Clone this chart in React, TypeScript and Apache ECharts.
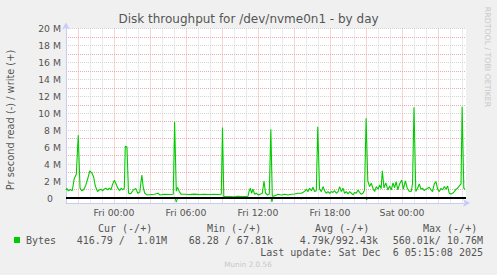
import React, { useEffect, useRef } from 'react';
import * as echarts from 'echarts';

// Hours relative to Fri 00:00, values in MB/s (M)
const writeHours = [
  -4.0, -3.93, -3.81, -3.64, -3.48, -3.31, -3.14, -2.98, -2.83, -2.68, -2.52, -2.35, -2.2, -2.02, -1.85, -1.7,
  -1.56, -1.37, -1.23, -1.08, -0.95, -0.81, -0.67, -0.52, -0.39, -0.25, -0.12, 0.03, 0.17, 0.32, 0.47, 0.61,
  0.73, 0.86, 0.94, 1.08, 1.21, 1.4, 1.61, 1.82, 1.98, 2.15, 2.32, 2.44, 2.57, 2.73, 3.11, 3.36,
  3.67, 3.82, 4.19, 4.61, 4.94, 5.05, 5.19, 5.3, 5.44, 5.58, 5.86, 6.28, 6.69, 7.11, 7.53, 7.94,
  8.36, 8.69, 8.94, 9.04, 9.15, 9.61, 10.03, 10.28, 10.61, 10.94, 11.17, 11.25, 11.36, 11.47, 11.58, 11.72,
  11.86, 12.03, 12.22, 12.36, 12.5, 12.63, 12.78, 12.94, 13.07, 13.19, 13.38, 13.67, 13.94, 14.22, 14.5, 14.78,
  15.05, 15.33, 15.61, 15.88, 16.03, 16.17, 16.3, 16.44, 16.58, 16.72, 16.86, 16.98, 17.13, 17.28, 17.42, 17.55,
  17.69, 17.83, 17.97, 18.11, 18.25, 18.38, 18.53, 18.67, 18.8, 18.94, 19.08, 19.22, 19.36, 19.5, 19.63, 19.78,
  19.92, 20.05, 20.19, 20.33, 20.47, 20.61, 20.75, 20.88, 21.01, 21.15, 21.3, 21.44, 21.58, 21.72, 21.86, 22.0,
  22.13, 22.26, 22.36, 22.5, 22.65, 22.82, 22.97, 23.11, 23.25, 23.38, 23.51, 23.65, 23.8, 23.98, 24.11, 24.28,
  24.44, 24.61, 24.78, 24.88, 25.0, 25.15, 25.3, 25.44, 25.58, 25.72, 25.86, 26.0, 26.13, 26.28, 26.42, 26.55,
  26.69, 26.83, 26.97, 27.11, 27.25, 27.38, 27.53, 27.67, 27.8, 27.94, 28.08, 28.22, 28.36, 28.5, 28.63, 28.78,
  28.92, 29.01, 29.15, 29.27,
];
const writeValues = [
  0.94, 1.15, 0.83, 1.0, 0.85, 2.3, 2.8, 7.4, 1.15, 0.83, 1.0, 1.5, 2.2, 3.2, 2.95, 2.5,
  1.4, 0.75, 0.95, 1.03, 0.83, 1.06, 1.14, 0.95, 1.15, 0.95, 1.6, 2.1, 1.65, 1.15, 0.86, 1.15,
  0.95, 1.15, 6.1, 6.0, 0.55, 0.5, 0.94, 1.1, 0.55, 0.7, 2.7, 1.2, 0.55, 0.35, 0.4, 0.43,
  0.55, 0.35, 0.43, 0.4, 0.43, 9.0, 0.8, 1.25, 0.75, 0.45, 0.43, 0.4, 0.45, 0.4, 0.43, 0.4,
  0.43, 0.4, 0.43, 8.3, 0.15, 0.15, 0.12, 0.2, 0.15, 0.15, 0.2, 0.75, 1.14, 0.55, 1.03, 0.43,
  0.55, 0.35, 0.47, 0.55, 2.0, 0.55, 0.35, 0.47, 8.1, 0.2, 0.24, 0.43, 0.35, 0.43, 0.35, 0.43,
  0.47, 0.55, 0.55, 0.75, 1.03, 0.75, 1.14, 0.85, 1.26, 0.75, 0.85, 8.4, 1.03, 0.75, 1.34, 0.85,
  0.55, 0.75, 0.55, 0.75, 0.65, 0.85, 0.55, 0.75, 1.34, 0.75, 1.14, 0.55, 0.75, 0.47, 0.75, 0.55,
  0.35, 0.65, 0.55, 0.94, 0.65, 0.43, 0.55, 0.94, 9.4, 2.0, 1.34, 1.73, 1.14, 0.75, 1.34, 1.03,
  1.53, 1.1, 3.2, 1.18, 1.77, 0.94, 1.4, 0.94, 1.77, 1.18, 1.93, 0.94, 1.65, 2.1, 1.0, 2.0,
  1.14, 0.75, 0.8, 1.73, 10.7, 0.75, 1.14, 1.65, 1.03, 1.14, 0.85, 1.03, 1.14, 1.26, 0.94, 0.75,
  1.65, 1.93, 1.03, 0.75, 1.14, 0.94, 1.34, 1.03, 1.42, 0.55, 0.47, 0.55, 0.75, 1.03, 1.14, 1.42,
  1.65, 10.76, 1.14, 1.01,
];
const readHours = [-4.0, 5.1, 5.19, 5.3, 13.1, 13.16, 13.25, 15.5, 15.6, 15.7, 20.95, 21.05, 21.15, 29.27];
const readValues = [-0.004, -0.004, -0.5, -0.004, -0.004, -0.45, -0.004, -0.004, -0.15, -0.004, -0.004, -0.24, -0.004, -0.0004];

const xTickHours = [0, 6, 12, 18, 24];
const xTickLabels = ['Fri 00:00', 'Fri 06:00', 'Fri 12:00', 'Fri 18:00', 'Sat 00:00'];
const yTickValues = [0, 2, 4, 6, 8, 10, 12, 14, 16, 18, 20];
const yTickLabels = ['0', '2 M', '4 M', '6 M', '8 M', '10 M', '12 M', '14 M', '16 M', '18 M', '20 M'];

const legendHeaders = ['Cur (-/+)', 'Min (-/+)', 'Avg (-/+)', 'Max (-/+)'];
const legendCells = ['416.79 /  1.01M', '68.28 / 67.81k', '4.79k/992.43k', '560.01k/ 10.76M'];
const seriesName = 'Bytes';
const lastUpdate = 'Last update: Sat Dec  6 05:15:08 2025';

const GREEN = '#00cc00';
const TXT = '#555555';
const MINOR = '#d4d4d4';
const MAJOR = '#eeaaaa';
const AXIS = '#c8ccf4';

export default function App() {
  const ref = useRef<HTMLDivElement>(null);
  useEffect(() => {
    if (!ref.current) return;
    const chart = echarts.init(ref.current, undefined, { renderer: 'svg' });
    const headerX = [98, 207, 315, 423];
    const cellEnd = [167, 273, 378, 483];
    const mono = 'DejaVu Sans Mono';
    const graphics: any[] = [
      {
        type: 'text', x: 248.5, y: 19,
        style: { text: 'Disk throughput for /dev/nvme0n1 - by day', fill: TXT, font: '12px "DejaVu Sans"', textAlign: 'center', textVerticalAlign: 'middle' },
      },
      {
        type: 'text', x: 10, y: 120, rotation: Math.PI / 2,
        style: { text: 'Pr second read (-) / write (+)', fill: TXT, font: '9.8px "DejaVu Sans"', textAlign: 'center', textVerticalAlign: 'middle' },
      },
      {
        type: 'text', x: 487, y: 57, rotation: -Math.PI / 2,
        style: { text: 'RRDTOOL / TOBI OETIKER', fill: '#c8c8c8', font: '7.8px "DejaVu Sans"', textAlign: 'center', textVerticalAlign: 'middle' },
      },
      { type: 'rect', shape: { x: 14, y: 237, width: 6, height: 6 }, style: { fill: GREEN } },
      {
        type: 'text', x: 26, y: 240,
        style: { text: seriesName, fill: TXT, font: `10px "${mono}"`, textAlign: 'left', textVerticalAlign: 'middle' },
      },
      {
        type: 'text', x: 483, y: 252,
        style: { text: lastUpdate, fill: TXT, font: `10px "${mono}"`, textAlign: 'right', textVerticalAlign: 'middle' },
      },
      {
        type: 'text', x: 248, y: 264,
        style: { text: 'Munin 2.0.56', fill: '#c8c8c8', font: '7.3px "DejaVu Sans"', textAlign: 'center', textVerticalAlign: 'middle' },
      },
    ];
    legendHeaders.forEach((h, i) => {
      graphics.push({
        type: 'text', x: headerX[i], y: 228,
        style: { text: h, fill: TXT, font: `10px "${mono}"`, textAlign: 'left', textVerticalAlign: 'middle' },
      });
      graphics.push({
        type: 'text', x: cellEnd[i], y: 240,
        style: { text: legendCells[i], fill: TXT, font: `10px "${mono}"`, textAlign: 'right', textVerticalAlign: 'middle' },
      });
    });

    chart.setOption({
      animation: false,
      backgroundColor: '#f0f0f0',
      grid: [
        { left: 66, right: 31, top: 28.5, bottom: 72, show: true, backgroundColor: '#ffffff', borderWidth: 0 },
        { left: 66, right: 31, top: 28.5, bottom: 77 },
      ],
      xAxis: [
        {
          gridIndex: 0, type: 'value', min: -4, max: 29.3333, interval: 1,
          axisLine: { show: true, onZero: false, lineStyle: { color: AXIS, width: 1 }, symbol: ['none', 'arrow'], symbolSize: [6, 7], symbolOffset: [0, 4] },
          axisTick: { show: false },
          axisLabel: {
            color: TXT, fontSize: 9.3, fontFamily: 'DejaVu Sans', margin: 5, showMaxLabel: false,
            formatter: (v: number) => {
              const idx = xTickHours.findIndex((h) => Math.abs(h - v) < 1e-6);
              return idx >= 0 ? xTickLabels[idx] : '';
            },
          },
          splitLine: { show: true, showMaxLine: false, lineStyle: { color: [MINOR, MAJOR, MINOR], width: 1, type: [1, 1] } },
        },
        { gridIndex: 1, type: 'value', min: -4, max: 29.3333, show: false },
      ],
      yAxis: [
        {
          gridIndex: 0, type: 'value', min: -0.6, max: 20,
          axisLine: { show: true, onZero: false, lineStyle: { color: AXIS, width: 1 }, symbol: ['none', 'arrow'], symbolSize: [6, 7], symbolOffset: [0, 6] },
          axisTick: { show: false }, axisLabel: { show: false }, splitLine: { show: false },
        },
        {
          gridIndex: 1, type: 'value', min: 0, max: 20, interval: 1,
          axisLine: { show: false, onZero: false }, axisTick: { show: false },
          axisLabel: {
            color: TXT, fontSize: 9.3, fontFamily: 'DejaVu Sans', margin: 5,
            formatter: (v: number) => {
              const idx = yTickValues.indexOf(Math.round(v));
              if (idx < 0 || Math.abs(v - Math.round(v)) > 1e-6) return '';
              return idx === 0 ? '{z|' + yTickLabels[0] + '}' : yTickLabels[idx];
            },
            rich: { z: { padding: [0, 8, 0, 0], fontSize: 9.3, fontFamily: 'DejaVu Sans', color: TXT } },
          },
          splitLine: { show: true, showMinLine: false, lineStyle: { color: [MAJOR, MINOR], width: 1, type: [1, 1] } },
        },
      ],
      series: [
        {
          type: 'line', name: 'read', xAxisIndex: 0, yAxisIndex: 0,
          data: readHours.map((h, i) => [h, readValues[i]]),
          showSymbol: false, symbol: 'none', lineStyle: { color: GREEN, width: 1 }, silent: true,
          markLine: {
            silent: true, symbol: ['none', 'none'], label: { show: false },
            lineStyle: { color: '#000000', width: 2, type: 'solid' },
            data: [{ yAxis: 0 }],
          },
        },
        {
          type: 'line', name: 'write', xAxisIndex: 0, yAxisIndex: 0,
          data: writeHours.map((h, i) => [h, writeValues[i]]),
          showSymbol: false, symbol: 'none', lineStyle: { color: GREEN, width: 1.1 }, silent: true,
        },
      ],
      graphic: graphics,
    });
    return () => chart.dispose();
  }, []);
  return <div ref={ref} style={{ width: 497, height: 275, position: 'fixed', left: 0, top: 0 }} />;
}
